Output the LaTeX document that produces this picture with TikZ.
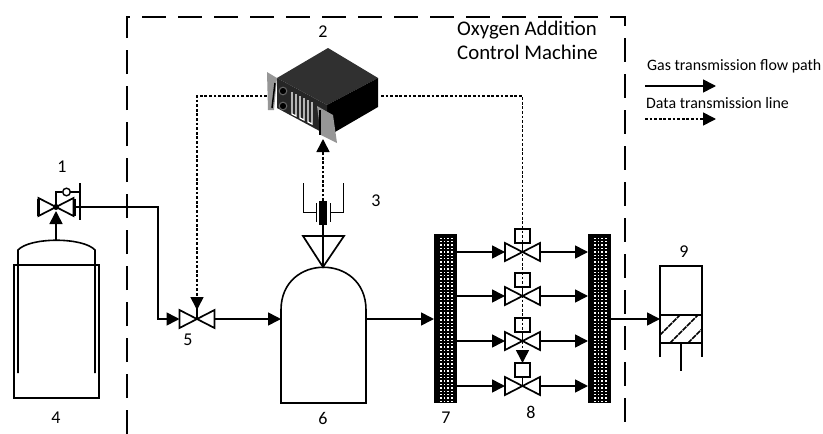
\documentclass[tikz,border=0pt]{standalone}
\usepackage{fontspec}
\setmainfont{Carlito}
\usetikzlibrary{positioning,arrows.meta,calc}
\definecolor{rackgris}{RGB}{150,150,150}
\definecolor{racktapa}{RGB}{48,48,48}

\begin{document}
\begin{tikzpicture}[
  x=1pt, y=-1pt,
  >={Triangle[length=13pt,width=13pt]},
  tubo/.style={draw=black, line width=1.6pt},
  datos/.style={draw=black, line width=1.9pt, dash pattern=on 2.8pt off 1.8pt},
  borde/.style={draw=black, line width=1.2pt, dash pattern=on 24pt off 12pt},
  etq/.style={font=\fontsize{18}{20}\selectfont, text=black},
  titulo/.style={font=\fontsize{20.8}{24}\selectfont, text=black, align=left, anchor=north west},
  leyenda/.style={font=\fontsize{15.9}{18}\selectfont, text=black, anchor=west},
  valve/.pic={
    \draw[black, line width=1.7pt, fill=white, line join=miter]
      (-17.5,-9) -- (17.5,9) -- (17.5,-9) -- (-17.5,9) -- cycle;
    \coordinate (-c) at (0,0);
    \coordinate (-l) at (-17.5,0);
    \coordinate (-r) at (17.5,0);
  },
  cajavalve/.pic={
    \draw[black, line width=1.7pt] (0,0) -- (0,-9);
    \draw[black, line width=1.7pt, fill=white] (-7.5,-23) rectangle (7.5,-9);
    \draw[black, line width=1.7pt, fill=white, line join=miter]
      (-17.5,-9) -- (17.5,9) -- (17.5,-9) -- (-17.5,9) -- cycle;
    \coordinate (-t) at (0,-23);
    \coordinate (-l) at (-17.5,0);
    \coordinate (-r) at (17.5,0);
  }
]
\useasboundingbox (0,0) rectangle (823,434);
\fill[white] (0,0) rectangle (823,434);

% control machine boundary
\draw[borde] (127,434) -- (127,17) -- (625,17) -- (625,434);
\node[titulo, inner sep=0pt] (maquina) at (457,20.5) {Oxygen Addition\\Control Machine};

% cylinder 4
\draw[tubo] (14,265) rectangle (99,398);
\draw[tubo] (18,373) -- (18,250) .. controls (30,237) and (83,237) .. (95,250) -- (95,373);
\coordinate (tanquea) at (56,240);
\coordinate (valveain) at (56,211);

% valve 1
\pic (va) at (56,207) {valve};
\fill[black] (va-c) circle (3pt);
\draw[black, line width=1.4pt] (va-c) -- (56,192) -- (62,192);
\draw[black, line width=1.4pt, fill=white] (66.5,192) circle (3.8pt);
\draw[black, line width=1.4pt] (70.3,192) -- (80,192);
\draw[black, line width=1.6pt] (80,183) -- (80,220);
\draw[black, line width=3pt] (38.5,198.5) -- (38.5,215.5);
\draw[black, line width=3pt] (74.5,198.5) -- (74.5,215.5);
\draw[tubo, ->] (tanquea) -- (valveain);

% valve 5
\pic (ve) at (197,319) {valve};
\draw[black, line width=2.5pt] (ve-c) -- (197,306);
\draw[tubo, ->] (va-r) -| (158,319) -- (ve-l);

% tank 6
\draw[tubo] (281,403) -- (281,310) .. controls (281,253) and (366,253) .. (366,310)
  -- (366,403) -- cycle;
\coordinate (tanquef) at (366,319);
\coordinate (tanqueent) at (281,319);
\draw[tubo, ->] (ve-r) -- (tanqueent);

% sensor 3
\draw[black, line width=1.7pt, line join=miter] (303,236) -- (344,236) -- (323,267) -- cycle;
\draw[black, line width=1.4pt] (323,225) -- (323,267);
\fill[black] (319,201) rectangle (327,225);
\draw[black, line width=1pt] (316.5,203) -- (316.5,222);
\draw[black, line width=1pt] (330,203) -- (330,222);
\draw[black, line width=1pt] (316.5,212) -- (303.5,212) -- (303.5,183);
\draw[black, line width=1pt] (330,212) -- (343,212) -- (343,183);
\coordinate (sensor) at (323,201);

% server 2
\fill[racktapa] (328,48) -- (378,78) -- (327,105) -- (277,78) -- cycle;
\fill[black] (327,105) -- (378,78) -- (378,107) -- (335,132) -- (327,132) -- cycle;
\fill[black!85] (277,78) -- (327,105) -- (327,135) -- (277,108) -- cycle;
\fill[rackgris] (267,72) -- (277,78) -- (274,110) -- (268,110) -- cycle;
\fill[rackgris] (317,106) -- (333,115) -- (337,143) -- (321,135) -- cycle;
\draw[black, line width=1.5pt] (275,83) -- (272,108);
\draw[black, line width=1.5pt] (320,110) -- (320,135);
\draw[black!60, fill=black, line width=1pt] (283,91) circle (3.8pt);
\draw[black!60, fill=black, line width=1pt] (283,106) circle (3.8pt);
\foreach \xa/\ya in {292/92, 300/96, 308/100}{
  \draw[white, line width=1.2pt] (\xa,\ya) -- (\xa,\ya+22) -- (\xa+4,\ya+24) -- (\xa+4,\ya+2);
}
\coordinate (servidori) at (267,96);
\coordinate (servidord) at (381,96);
\coordinate (servidorb) at (323,139);

% data lines
\draw[datos] (servidori) -| (197,297);
\draw[datos] (sensor) -- (323,152);
\draw[tubo, solid, ->] (323,152) -- (servidorb);
\draw[tubo, solid, ->] (197,297) -- (197,310);

% manifolds 7
\foreach \xm/\nm in {434/manl, 588/manr}{
  \fill[black] (\xm,234) rectangle (\xm+23,403);
  \coordinate (\nm) at (\xm,234);
  \foreach \cx in {0,...,3}{
    \foreach \cy in {0,...,48}{
      \fill[white] ({\xm+6.2+\cx*3.6},{237.5+\cy*3.4}) rectangle ++(1.5,1.5);
    }
  }
}

% valves 8
\foreach \nv/\yv in {vha/252, vhb/296, vhc/341, vhd/386}{
  \pic (\nv) at (522.5,\yv) {cajavalve};
  \coordinate (\nv-e) at (457,\yv);
  \coordinate (\nv-s) at (588,\yv);
  \draw[tubo, ->] (\nv-e) -- (\nv-l);
  \draw[tubo, ->] (\nv-r) -- (\nv-s);
}
\draw[datos] (servidord) -| (522.5,351);
\draw[tubo, solid, ->] (522.5,350) -- (vhd-t);
\coordinate (manent) at (434,319);
\coordinate (mansal) at (611,319);
\draw[tubo, ->] (tanquef) -- (manent);

% cylinder 9
\coordinate (piston) at (660,319);
\draw[tubo, ->] (mansal) -- (piston);
\begin{scope}
  \clip (660,315) rectangle (702,343);
  \foreach \xh/\yh/\xk/\yk in {660/335/680/315, 670/343/698/315, 688/343/704/327}{
    \draw[black, line width=1.5pt, dash pattern=on 5pt off 1pt] (\xh,\yh) -- (\xk,\yk);
  }
\end{scope}
\draw[black, line width=1.7pt] (660,357) -- (660,266) -- (702,266) -- (702,357);
\draw[black, line width=1.7pt] (660,315) -- (702,315);
\draw[black, line width=1.7pt] (660,343) -- (702,343);
\draw[black, line width=1.7pt] (681,343) -- (681,371);

% legend
\node[leyenda, inner sep=0pt] (leygas) at (647,66) {Gas transmission flow path};
\node[leyenda, inner sep=0pt] (leydat) at (646,103) {Data transmission line};
\coordinate (leyga) at (645,86);
\coordinate (leygb) at (716,86);
\coordinate (leyda) at (645,119);
\coordinate (leydb) at (703,119);
\coordinate (leydc) at (716,119);
\draw[tubo, ->] (leyga) -- (leygb);
\draw[datos] (leyda) -- (leydb);
\draw[tubo, ->] (leydb) -- (leydc);

% numbers
\node[etq] (num1) at (62,167) {1};
\node[etq] (num2) at (323,32) {2};
\node[etq] (num3) at (376,201) {3};
\node[etq] (num4) at (56,418) {4};
\node[etq] (num5) at (188,340) {5};
\node[etq] (num6) at (323,418) {6};
\node[etq] (num7) at (446,418) {7};
\node[etq] (num8) at (531,412) {8};
\node[etq] (num9) at (684,252) {9};
\end{tikzpicture}
\end{document}
